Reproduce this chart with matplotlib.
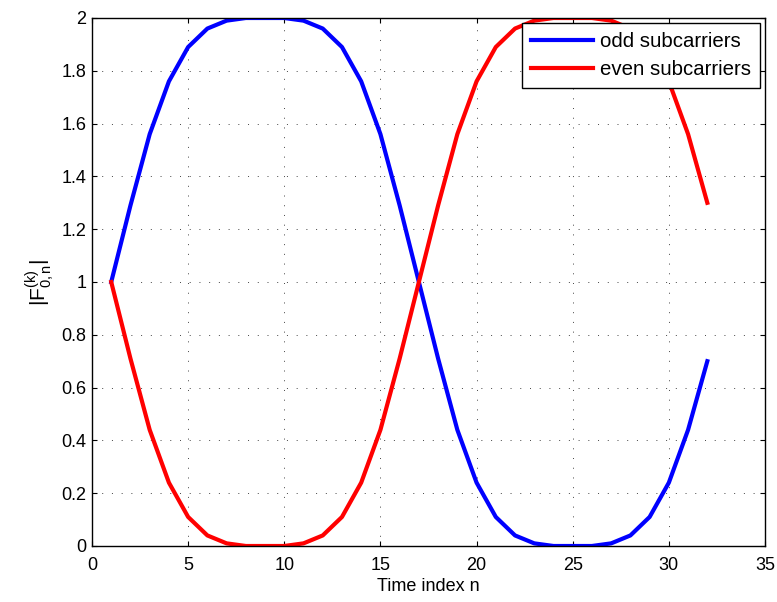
import matplotlib
matplotlib.use("Agg")
import matplotlib.pyplot as plt
import numpy as np

plt.rcParams['font.family'] = ['Liberation Sans', 'DejaVu Sans']
plt.rcParams['mathtext.fontset'] = 'custom'
plt.rcParams['mathtext.rm'] = 'Liberation Sans'
plt.rcParams['mathtext.it'] = 'Liberation Sans'

# time index and magnitudes
n = np.arange(1, 33)
odd = [1.0, 1.29, 1.56, 1.76, 1.89, 1.96, 1.99, 2.0, 2.0, 2.0, 1.99, 1.96,
       1.89, 1.76, 1.56, 1.29, 1.0, 0.71, 0.44, 0.24, 0.11, 0.04, 0.01, 0.0,
       0.0, 0.0, 0.01, 0.04, 0.11, 0.24, 0.44, 0.70]
even = [1.0, 0.71, 0.44, 0.24, 0.11, 0.04, 0.01, 0.0, 0.0, 0.0, 0.01, 0.04,
        0.11, 0.24, 0.44, 0.71, 1.0, 1.29, 1.56, 1.76, 1.89, 1.96, 1.99, 2.0,
        2.0, 2.0, 1.99, 1.96, 1.89, 1.76, 1.56, 1.30]

xticks = np.arange(0, 36, 5)
yticks = np.round(np.arange(0, 2.01, 0.2), 1)
ytick_labels = [f'{v:g}' for v in yticks]

fig = plt.figure(figsize=(7.77, 6.02), dpi=100)
ax = fig.add_axes([92 / 777, 56 / 602, 673 / 777, 528 / 602])

ax.plot(n, odd, color='#0000ff', lw=3, label='odd subcarriers')
ax.plot(n, even, color='#ff0000', lw=3, label='even subcarriers')

ax.set_xlim(0, 35)
ax.set_ylim(0, 2)
ax.set_xticks(xticks)
ax.set_yticks(yticks)
ax.set_yticklabels(ytick_labels)
ax.tick_params(direction='in', top=True, right=True, labelsize=13, length=3.5)
ax.tick_params(axis='x', pad=8)
ax.tick_params(axis='y', pad=4)
ax.grid(True, linestyle=(0, (1, 9)), color='#444444', linewidth=0.7)
for s in ax.spines.values():
    s.set_linewidth(1.0)

ax.set_xlabel('Time index n', fontsize=13, labelpad=3)
ax.set_ylabel(r'$\mathregular{|F^{(k)}_{0,n}|}$', fontsize=15, labelpad=4)

leg = ax.legend(loc='upper right', fontsize=14.7, fancybox=False, framealpha=1,
                edgecolor='black', borderaxespad=0.25, handlelength=3.0,
                handletextpad=0.35, borderpad=0.45, labelspacing=0.42)
leg.get_frame().set_linewidth(1.0)

fig.savefig('out.png', dpi=100)
